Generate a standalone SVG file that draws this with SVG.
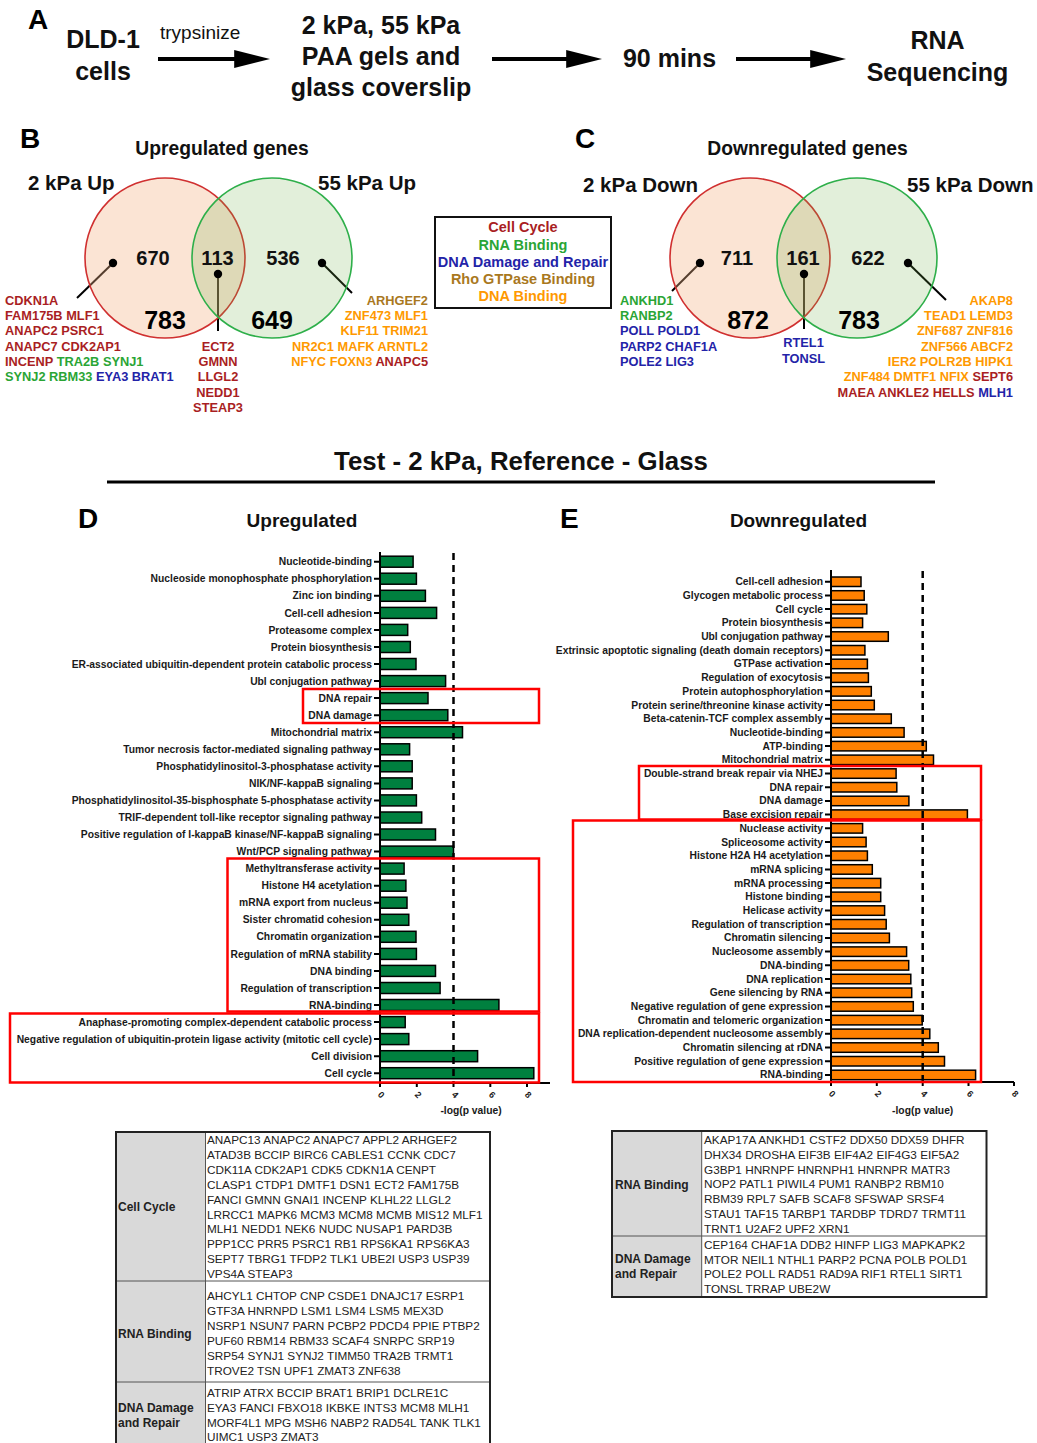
<svg xmlns="http://www.w3.org/2000/svg" width="1037" height="1443" viewBox="0 0 1037 1443">
<defs>
<style>
text{font-family:"Liberation Sans",Arial,sans-serif;}
.pl{font-size:28px;font-weight:bold;fill:#000;}
.fa{font-size:25px;font-weight:bold;fill:#111;text-anchor:middle;}
.vt{font-size:19.3px;font-weight:bold;fill:#111;text-anchor:middle;}
.vs{font-size:20.5px;font-weight:bold;fill:#111;}
.n1{font-size:20px;font-weight:bold;fill:#111;text-anchor:middle;}
.n2{font-size:25px;font-weight:bold;fill:#000;text-anchor:middle;}
.g{font-size:12.8px;font-weight:bold;}
.cc{fill:#A91E23;}
.rb{fill:#2AA535;}
.dd{fill:#2323A8;}
.rho{fill:#A9781E;}
.db{fill:#FF9900;}
.lg{font-size:14.5px;font-weight:bold;text-anchor:middle;}
.rl{font-size:10.3px;font-weight:bold;fill:#1a1a1a;text-anchor:end;}
.tk{font-size:9px;font-weight:bold;fill:#1a1a1a;text-anchor:middle;}
.gb{fill:#00803F;stroke:#000;stroke-width:1.5;}
.ob{fill:#FF8000;stroke:#000;stroke-width:1.5;}
.ax{stroke:#000;stroke-width:2;fill:none;}
.dash{stroke:#000;stroke-width:2.5;stroke-dasharray:7 5;fill:none;}
.rbox{fill:none;stroke:#FF0000;stroke-width:2.5;}
.pt{stroke:#000;stroke-width:2;}
.tt{font-size:11.75px;fill:#222;}
.th{font-size:12px;font-weight:bold;fill:#222;}
.cell{fill:#D9D9D9;}
.tl{stroke:#555;stroke-width:1;}
.tb{fill:none;stroke:#222;stroke-width:2;}
</style>
<marker id="ah" viewBox="0 0 10 5" refX="0.5" refY="2.5" markerWidth="9" markerHeight="4.5" markerUnits="strokeWidth" orient="auto">
<path d="M0,0 L10,2.5 L0,5 z" fill="#000"/>
</marker>
</defs>
<rect width="1037" height="1443" fill="#fff"/>

<!-- Panel A -->
<g id="panelA">
<text class="pl" x="28" y="29">A</text>
<g id="node-dld1"><text class="fa" x="103" y="48">DLD-1</text><text class="fa" x="103" y="80">cells</text></g>
<text id="lbl-trypsinize" x="160" y="39" style="font-size:19px;fill:#111;">trypsinize</text>
<g id="node-gels"><text class="fa" x="381" y="34">2 kPa, 55 kPa</text><text class="fa" x="381" y="65">PAA gels and</text><text class="fa" x="381" y="96">glass coverslip</text></g>
<g id="node-90"><text class="fa" x="669.5" y="67">90 mins</text></g>
<g id="node-rna"><text class="fa" x="937.5" y="49">RNA</text><text class="fa" x="937.5" y="81">Sequencing</text></g>
</g>

<g id="connectors">
<line x1="158" y1="59" x2="236" y2="59" stroke="#000" stroke-width="4" marker-end="url(#ah)"/>
<line x1="492" y1="59" x2="568" y2="59" stroke="#000" stroke-width="4" marker-end="url(#ah)"/>
<line x1="736" y1="59" x2="812" y2="59" stroke="#000" stroke-width="4" marker-end="url(#ah)"/>
<line class="pt" x1="113" y1="263" x2="77" y2="298"/>
<line class="pt" x1="218" y1="274" x2="218" y2="331"/>
<line class="pt" x1="322" y1="263" x2="352" y2="293"/>
<line class="pt" x1="700" y1="263" x2="672" y2="291"/>
<line class="pt" x1="804" y1="274" x2="804" y2="329"/>
<line class="pt" x1="908" y1="263" x2="946" y2="300"/>
</g>

<!-- Panel B -->
<g id="panelB">
<text class="pl" x="20" y="148">B</text>
<text class="vt" x="222" y="155">Upregulated genes</text>
<text class="vs" x="28" y="190">2 kPa Up</text>
<text class="vs" x="318" y="190">55 kPa Up</text>
<circle cx="165" cy="258" r="80" fill="#F4B183" fill-opacity="0.35" stroke="#D03030" stroke-width="1.6"/>
<circle cx="272" cy="258" r="80" fill="#70AD47" fill-opacity="0.2" stroke="#2EAF4A" stroke-width="1.6"/>
<text class="n1" x="153" y="265">670</text>
<text class="n1" x="217.5" y="265">113</text>
<text class="n1" x="283" y="265">536</text>
<text class="n2" x="165" y="329">783</text>
<text class="n2" x="272" y="329">649</text>
<circle cx="113" cy="263" r="4.2" fill="#000"/>
<circle cx="218" cy="274" r="4.2" fill="#000"/>
<circle cx="322" cy="263" r="4.2" fill="#000"/>
<g class="g">
<text x="5" y="304.5" class="cc">CDKN1A</text>
<text x="5" y="319.8" class="cc">FAM175B MLF1</text>
<text x="5" y="335.2" class="cc">ANAPC2 PSRC1</text>
<text x="5" y="350.5" class="cc">ANAPC7 CDK2AP1</text>
<text x="5" y="365.8"><tspan class="cc">INCENP </tspan><tspan class="rb">TRA2B SYNJ1</tspan></text>
<text x="5" y="381.2"><tspan class="rb">SYNJ2 RBM33 </tspan><tspan class="dd">EYA3 BRAT1</tspan></text>
<text x="218" y="350.5" class="cc" text-anchor="middle">ECT2</text>
<text x="218" y="365.8" class="cc" text-anchor="middle">GMNN</text>
<text x="218" y="381.2" class="cc" text-anchor="middle">LLGL2</text>
<text x="218" y="396.5" class="cc" text-anchor="middle">NEDD1</text>
<text x="218" y="411.8" class="cc" text-anchor="middle">STEAP3</text>
<text x="428" y="304.5" class="rho" text-anchor="end">ARHGEF2</text>
<text x="428" y="319.8" class="db" text-anchor="end">ZNF473 MLF1</text>
<text x="428" y="335.2" class="db" text-anchor="end">KLF11 TRIM21</text>
<text x="428" y="350.5" class="db" text-anchor="end">NR2C1 MAFK ARNTL2</text>
<text x="428" y="365.8" text-anchor="end"><tspan class="db">NFYC FOXN3 </tspan><tspan class="cc">ANAPC5</tspan></text>
</g>
</g>

<!-- Legend -->
<g id="legend">
<rect x="435" y="217" width="176" height="91" fill="#fff" stroke="#111" stroke-width="2"/>
<text class="lg cc" x="523" y="232">Cell Cycle</text>
<text class="lg rb" x="523" y="250">RNA Binding</text>
<text class="lg dd" x="523" y="267">DNA Damage and Repair</text>
<text class="lg rho" x="523" y="284">Rho GTPase Binding</text>
<text class="lg db" x="523" y="301">DNA Binding</text>
</g>

<!-- Panel C -->
<g id="panelC">
<text class="pl" x="575" y="148">C</text>
<text class="vt" x="807.5" y="155">Downregulated genes</text>
<text class="vs" x="583" y="192">2 kPa Down</text>
<text class="vs" x="907" y="192">55 kPa Down</text>
<circle cx="750" cy="258" r="80" fill="#F4B183" fill-opacity="0.35" stroke="#D03030" stroke-width="1.6"/>
<circle cx="857" cy="258" r="80" fill="#70AD47" fill-opacity="0.2" stroke="#2EAF4A" stroke-width="1.6"/>
<text class="n1" x="737" y="265">711</text>
<text class="n1" x="803" y="265">161</text>
<text class="n1" x="868" y="265">622</text>
<text class="n2" x="748" y="329">872</text>
<text class="n2" x="859" y="329">783</text>
<circle cx="700" cy="263" r="4.2" fill="#000"/>
<circle cx="804" cy="274" r="4.2" fill="#000"/>
<circle cx="908" cy="263" r="4.2" fill="#000"/>
<g class="g">
<text x="620" y="304.5" class="rb">ANKHD1</text>
<text x="620" y="319.8" class="rb">RANBP2</text>
<text x="620" y="335.2" class="dd">POLL POLD1</text>
<text x="620" y="350.5" class="dd">PARP2 CHAF1A</text>
<text x="620" y="365.8" class="dd">POLE2 LIG3</text>
<text x="803.5" y="347" class="dd" text-anchor="middle">RTEL1</text>
<text x="803.5" y="362.5" class="dd" text-anchor="middle">TONSL</text>
<text x="1013" y="304.5" class="db" text-anchor="end">AKAP8</text>
<text x="1013" y="319.8" class="db" text-anchor="end">TEAD1 LEMD3</text>
<text x="1013" y="335.2" class="db" text-anchor="end">ZNF687 ZNF816</text>
<text x="1013" y="350.5" class="db" text-anchor="end">ZNF566 ABCF2</text>
<text x="1013" y="365.8" class="db" text-anchor="end">IER2 POLR2B HIPK1</text>
<text x="1013" y="381.2" text-anchor="end"><tspan class="db">ZNF484 DMTF1 NFIX </tspan><tspan class="cc">SEPT6</tspan></text>
<text x="1013" y="396.5" text-anchor="end"><tspan class="cc">MAEA ANKLE2 HELLS </tspan><tspan class="dd">MLH1</tspan></text>
</g>
</g>

<!-- Title -->
<g id="title">
<text x="521" y="470" text-anchor="middle" style="font-size:25.8px;font-weight:bold;fill:#111;">Test - 2 kPa, Reference - Glass</text>
<line x1="107" y1="482" x2="935" y2="482" stroke="#000" stroke-width="3"/>
</g>

<!-- Panel D -->
<g id="panelD">
<text class="pl" x="78" y="528">D</text>
<text x="302" y="527" text-anchor="middle" style="font-size:19px;font-weight:bold;fill:#111;">Upregulated</text>
<g id="D-bars">
<rect class="gb" x="380" y="556.2" width="33.1" height="11"/>
<rect class="gb" x="380" y="573.2" width="36.4" height="11"/>
<rect class="gb" x="380" y="590.3" width="45.4" height="11"/>
<rect class="gb" x="380" y="607.4" width="56.6" height="11"/>
<rect class="gb" x="380" y="624.4" width="27.7" height="11"/>
<rect class="gb" x="380" y="641.5" width="30.3" height="11"/>
<rect class="gb" x="380" y="658.5" width="36.0" height="11"/>
<rect class="gb" x="380" y="675.6" width="65.6" height="11"/>
<rect class="gb" x="380" y="692.6" width="48.0" height="11"/>
<rect class="gb" x="380" y="709.7" width="67.8" height="11"/>
<rect class="gb" x="380" y="726.7" width="82.5" height="11"/>
<rect class="gb" x="380" y="743.8" width="29.6" height="11"/>
<rect class="gb" x="380" y="760.8" width="32.2" height="11"/>
<rect class="gb" x="380" y="777.9" width="32.2" height="11"/>
<rect class="gb" x="380" y="794.9" width="36.4" height="11"/>
<rect class="gb" x="380" y="812.0" width="41.7" height="11"/>
<rect class="gb" x="380" y="829.0" width="55.5" height="11"/>
<rect class="gb" x="380" y="846.1" width="73.5" height="11"/>
<rect class="gb" x="380" y="863.1" width="24.1" height="11"/>
<rect class="gb" x="380" y="880.2" width="25.9" height="11"/>
<rect class="gb" x="380" y="897.2" width="27.0" height="11"/>
<rect class="gb" x="380" y="914.3" width="28.8" height="11"/>
<rect class="gb" x="380" y="931.3" width="36.0" height="11"/>
<rect class="gb" x="380" y="948.4" width="36.4" height="11"/>
<rect class="gb" x="380" y="965.4" width="55.5" height="11"/>
<rect class="gb" x="380" y="982.5" width="60.1" height="11"/>
<rect class="gb" x="380" y="999.5" width="118.9" height="11"/>
<rect class="gb" x="380" y="1016.6" width="25.2" height="11"/>
<rect class="gb" x="380" y="1033.6" width="28.8" height="11"/>
<rect class="gb" x="380" y="1050.7" width="97.6" height="11"/>
<rect class="gb" x="380" y="1067.7" width="153.8" height="11"/>
</g>
<g id="D-labels">
<text class="rl" x="372" y="565.3">Nucleotide-binding</text>
<text class="rl" x="372" y="582.4">Nucleoside monophosphate phosphorylation</text>
<text class="rl" x="372" y="599.4">Zinc ion binding</text>
<text class="rl" x="372" y="616.5">Cell-cell adhesion</text>
<text class="rl" x="372" y="633.5">Proteasome complex</text>
<text class="rl" x="372" y="650.6">Protein biosynthesis</text>
<text class="rl" x="372" y="667.6">ER-associated ubiquitin-dependent protein catabolic process</text>
<text class="rl" x="372" y="684.7">Ubl conjugation pathway</text>
<text class="rl" x="372" y="701.7">DNA repair</text>
<text class="rl" x="372" y="718.8">DNA damage</text>
<text class="rl" x="372" y="735.8">Mitochondrial matrix</text>
<text class="rl" x="372" y="752.9">Tumor necrosis factor-mediated signaling pathway</text>
<text class="rl" x="372" y="769.9">Phosphatidylinositol-3-phosphatase activity</text>
<text class="rl" x="372" y="787.0">NIK/NF-kappaB signaling</text>
<text class="rl" x="372" y="804.0">Phosphatidylinositol-35-bisphosphate 5-phosphatase activity</text>
<text class="rl" x="372" y="821.1">TRIF-dependent toll-like receptor signaling pathway</text>
<text class="rl" x="372" y="838.1">Positive regulation of I-kappaB kinase/NF-kappaB signaling</text>
<text class="rl" x="372" y="855.2">Wnt/PCP signaling pathway</text>
<text class="rl" x="372" y="872.2">Methyltransferase activity</text>
<text class="rl" x="372" y="889.3">Histone H4 acetylation</text>
<text class="rl" x="372" y="906.3">mRNA export from nucleus</text>
<text class="rl" x="372" y="923.4">Sister chromatid cohesion</text>
<text class="rl" x="372" y="940.4">Chromatin organization</text>
<text class="rl" x="372" y="957.5">Regulation of mRNA stability</text>
<text class="rl" x="372" y="974.5">DNA binding</text>
<text class="rl" x="372" y="991.6">Regulation of transcription</text>
<text class="rl" x="372" y="1008.6">RNA-binding</text>
<text class="rl" x="372" y="1025.7">Anaphase-promoting complex-dependent catabolic process</text>
<text class="rl" x="372" y="1042.7">Negative regulation of ubiquitin-protein ligase activity (mitotic cell cycle)</text>
<text class="rl" x="372" y="1059.8">Cell division</text>
<text class="rl" x="372" y="1076.8">Cell cycle</text>
</g>
<path class="ax" d="M374,561.7h6M374,578.8h6M374,595.8h6M374,612.9h6M374,629.9h6M374,647h6M374,664h6M374,681.1h6M374,698.1h6M374,715.2h6M374,732.2h6M374,749.3h6M374,766.3h6M374,783.4h6M374,800.4h6M374,817.5h6M374,834.5h6M374,851.6h6M374,868.6h6M374,885.7h6M374,902.7h6M374,919.8h6M374,936.8h6M374,953.9h6M374,970.9h6M374,988h6M374,1005h6M374,1022.1h6M374,1039.1h6M374,1056.2h6M374,1073.2h6"/>
<path class="ax" d="M380,552V1083H550M380,1083v4M416.8,1083v4M453.5,1083v4M490.3,1083v4M527,1083v4"/>
<line class="dash" x1="453.5" y1="553" x2="453.5" y2="1083"/>
<text class="tk" transform="translate(379,1097) rotate(45)">0</text>
<text class="tk" transform="translate(416,1097) rotate(45)">2</text>
<text class="tk" transform="translate(453,1097) rotate(45)">4</text>
<text class="tk" transform="translate(490,1097) rotate(45)">6</text>
<text class="tk" transform="translate(526,1097) rotate(45)">8</text>
<text x="471" y="1114" text-anchor="middle" style="font-size:10.3px;font-weight:bold;fill:#1a1a1a;">-log(p value)</text>
<rect class="rbox" x="303" y="689" width="236" height="34"/>
<rect class="rbox" x="227.5" y="858.5" width="311.5" height="153"/>
<rect class="rbox" x="10" y="1013.5" width="529" height="69"/>
</g>

<!-- Panel E -->
<g id="panelE">
<text class="pl" x="560" y="528">E</text>
<text x="798.5" y="527" text-anchor="middle" style="font-size:19px;font-weight:bold;fill:#111;">Downregulated</text>
<g id="E-bars">
<rect class="ob" x="831" y="577" width="30.0" height="9.5"/>
<rect class="ob" x="831" y="590.7" width="33.2" height="9.5"/>
<rect class="ob" x="831" y="604.4" width="35.8" height="9.5"/>
<rect class="ob" x="831" y="618.1" width="31.6" height="9.5"/>
<rect class="ob" x="831" y="631.8" width="57.3" height="9.5"/>
<rect class="ob" x="831" y="645.5" width="33.9" height="9.5"/>
<rect class="ob" x="831" y="659.2" width="36.4" height="9.5"/>
<rect class="ob" x="831" y="672.9" width="37.4" height="9.5"/>
<rect class="ob" x="831" y="686.6" width="40.3" height="9.5"/>
<rect class="ob" x="831" y="700.3" width="43.3" height="9.5"/>
<rect class="ob" x="831" y="714" width="60.3" height="9.5"/>
<rect class="ob" x="831" y="727.7" width="73.1" height="9.5"/>
<rect class="ob" x="831" y="741.4" width="95.3" height="9.5"/>
<rect class="ob" x="831" y="755.1" width="102.5" height="9.5"/>
<rect class="ob" x="831" y="768.8" width="65.1" height="9.5"/>
<rect class="ob" x="831" y="782.5" width="65.8" height="9.5"/>
<rect class="ob" x="831" y="796.2" width="77.9" height="9.5"/>
<rect class="ob" x="831" y="809.9" width="136.4" height="9.5"/>
<rect class="ob" x="831" y="823.6" width="31.6" height="9.5"/>
<rect class="ob" x="831" y="837.3" width="35.1" height="9.5"/>
<rect class="ob" x="831" y="851" width="36.4" height="9.5"/>
<rect class="ob" x="831" y="864.7" width="41.3" height="9.5"/>
<rect class="ob" x="831" y="878.4" width="49.7" height="9.5"/>
<rect class="ob" x="831" y="892.1" width="49.7" height="9.5"/>
<rect class="ob" x="831" y="905.8" width="53.6" height="9.5"/>
<rect class="ob" x="831" y="919.5" width="55.2" height="9.5"/>
<rect class="ob" x="831" y="933.2" width="58.4" height="9.5"/>
<rect class="ob" x="831" y="946.9" width="75.6" height="9.5"/>
<rect class="ob" x="831" y="960.6" width="77.7" height="9.5"/>
<rect class="ob" x="831" y="974.3" width="79.8" height="9.5"/>
<rect class="ob" x="831" y="988" width="80.7" height="9.5"/>
<rect class="ob" x="831" y="1001.7" width="82.3" height="9.5"/>
<rect class="ob" x="831" y="1015.4" width="91.2" height="9.5"/>
<rect class="ob" x="831" y="1029.1" width="98.8" height="9.5"/>
<rect class="ob" x="831" y="1042.8" width="107.3" height="9.5"/>
<rect class="ob" x="831" y="1056.5" width="113.5" height="9.5"/>
<rect class="ob" x="831" y="1070.2" width="144.6" height="9.5"/>
</g>
<g id="E-labels">
<text class="rl" x="823" y="585.2">Cell-cell adhesion</text>
<text class="rl" x="823" y="598.9">Glycogen metabolic process</text>
<text class="rl" x="823" y="612.6">Cell cycle</text>
<text class="rl" x="823" y="626.3">Protein biosynthesis</text>
<text class="rl" x="823" y="640">Ubl conjugation pathway</text>
<text class="rl" x="823" y="653.7">Extrinsic apoptotic signaling (death domain receptors)</text>
<text class="rl" x="823" y="667.4">GTPase activation</text>
<text class="rl" x="823" y="681.1">Regulation of exocytosis</text>
<text class="rl" x="823" y="694.8">Protein autophosphorylation</text>
<text class="rl" x="823" y="708.5">Protein serine/threonine kinase activity</text>
<text class="rl" x="823" y="722.2">Beta-catenin-TCF complex assembly</text>
<text class="rl" x="823" y="735.9">Nucleotide-binding</text>
<text class="rl" x="823" y="749.6">ATP-binding</text>
<text class="rl" x="823" y="763.3">Mitochondrial matrix</text>
<text class="rl" x="823" y="777">Double-strand break repair via NHEJ</text>
<text class="rl" x="823" y="790.7">DNA repair</text>
<text class="rl" x="823" y="804.4">DNA damage</text>
<text class="rl" x="823" y="818.1">Base excision repair</text>
<text class="rl" x="823" y="831.8">Nuclease activity</text>
<text class="rl" x="823" y="845.5">Spliceosome activity</text>
<text class="rl" x="823" y="859.2">Histone H2A H4 acetylation</text>
<text class="rl" x="823" y="872.9">mRNA splicing</text>
<text class="rl" x="823" y="886.6">mRNA processing</text>
<text class="rl" x="823" y="900.3">Histone binding</text>
<text class="rl" x="823" y="914">Helicase activity</text>
<text class="rl" x="823" y="927.7">Regulation of transcription</text>
<text class="rl" x="823" y="941.4">Chromatin silencing</text>
<text class="rl" x="823" y="955.1">Nucleosome assembly</text>
<text class="rl" x="823" y="968.8">DNA-binding</text>
<text class="rl" x="823" y="982.5">DNA replication</text>
<text class="rl" x="823" y="996.2">Gene silencing by RNA</text>
<text class="rl" x="823" y="1009.9">Negative regulation of gene expression</text>
<text class="rl" x="823" y="1023.6">Chromatin and telomeric organization</text>
<text class="rl" x="823" y="1037.3">DNA replication-dependent nucleosome assembly</text>
<text class="rl" x="823" y="1051">Chromatin silencing at rDNA</text>
<text class="rl" x="823" y="1064.7">Positive regulation of gene expression</text>
<text class="rl" x="823" y="1078.4">RNA-binding</text>
</g>
<path class="ax" d="M825,581.7h6M825,595.4h6M825,609.1h6M825,622.8h6M825,636.5h6M825,650.2h6M825,663.9h6M825,677.6h6M825,691.3h6M825,705h6M825,718.7h6M825,732.4h6M825,746.1h6M825,759.8h6M825,773.5h6M825,787.2h6M825,800.9h6M825,814.6h6M825,828.3h6M825,842h6M825,855.7h6M825,869.4h6M825,883.1h6M825,896.8h6M825,910.5h6M825,924.2h6M825,937.9h6M825,951.6h6M825,965.3h6M825,979h6M825,992.7h6M825,1006.4h6M825,1020.1h6M825,1033.8h6M825,1047.5h6M825,1061.2h6M825,1074.9h6"/>
<path class="ax" d="M831,570V1082H1014M831,1082v4M876.8,1082v4M922.7,1082v4M968.5,1082v4M1014,1082v4"/>
<line class="dash" x1="922.7" y1="571" x2="922.7" y2="1082"/>
<text class="tk" transform="translate(830,1096) rotate(45)">0</text>
<text class="tk" transform="translate(876,1096) rotate(45)">2</text>
<text class="tk" transform="translate(922,1096) rotate(45)">4</text>
<text class="tk" transform="translate(968,1096) rotate(45)">6</text>
<text class="tk" transform="translate(1013,1096) rotate(45)">8</text>
<text x="922.7" y="1114" text-anchor="middle" style="font-size:10.3px;font-weight:bold;fill:#1a1a1a;">-log(p value)</text>
<rect class="rbox" x="639" y="766" width="342" height="53.5"/>
<rect class="rbox" x="573" y="820.5" width="408" height="261.5"/>
</g>

<!-- Table left -->
<g id="table-up">
<rect class="cell" x="116" y="1132" width="89.5" height="313"/>
<line class="tl" x1="205.5" y1="1132" x2="205.5" y2="1445"/>
<line class="tl" x1="116" y1="1281" x2="490" y2="1281"/>
<line class="tl" x1="116" y1="1382" x2="490" y2="1382"/>
<path class="tb" d="M116,1445V1132H490V1445"/>
<text class="th" x="118" y="1211">Cell Cycle</text>
<text class="th" x="118" y="1338">RNA Binding</text>
<text class="th" x="118" y="1412">DNA Damage</text>
<text class="th" x="118" y="1427">and Repair</text>
<g class="tt">
<text x="207" y="1144">ANAPC13 ANAPC2 ANAPC7 APPL2 ARHGEF2</text>
<text x="207" y="1158.9">ATAD3B BCCIP BIRC6 CABLES1 CCNK CDC7</text>
<text x="207" y="1173.8">CDK11A CDK2AP1 CDK5 CDKN1A CENPT</text>
<text x="207" y="1188.7">CLASP1 CTDP1 DMTF1 DSN1 ECT2 FAM175B</text>
<text x="207" y="1203.6">FANCI GMNN GNAI1 INCENP KLHL22 LLGL2</text>
<text x="207" y="1218.5">LRRCC1 MAPK6 MCM3 MCM8 MCMB MIS12 MLF1</text>
<text x="207" y="1233.4">MLH1 NEDD1 NEK6 NUDC NUSAP1 PARD3B</text>
<text x="207" y="1248.3">PPP1CC PRR5 PSRC1 RB1 RPS6KA1 RPS6KA3</text>
<text x="207" y="1263.2">SEPT7 TBRG1 TFDP2 TLK1 UBE2I USP3 USP39</text>
<text x="207" y="1278.1">VPS4A STEAP3</text>
<text x="207" y="1300">AHCYL1 CHTOP CNP CSDE1 DNAJC17 ESRP1</text>
<text x="207" y="1315">GTF3A HNRNPD LSM1 LSM4 LSM5 MEX3D</text>
<text x="207" y="1330">NSRP1 NSUN7 PARN PCBP2 PDCD4 PPIE PTBP2</text>
<text x="207" y="1345">PUF60 RBM14 RBM33 SCAF4 SNRPC SRP19</text>
<text x="207" y="1360">SRP54 SYNJ1 SYNJ2 TIMM50 TRA2B TRMT1</text>
<text x="207" y="1375">TROVE2 TSN UPF1 ZMAT3 ZNF638</text>
<text x="207" y="1397">ATRIP ATRX BCCIP BRAT1 BRIP1 DCLRE1C</text>
<text x="207" y="1412">EYA3 FANCI FBXO18 IKBKE INTS3 MCM8 MLH1</text>
<text x="207" y="1427">MORF4L1 MPG MSH6 NABP2 RAD54L TANK TLK1</text>
<text x="207" y="1441">UIMC1 USP3 ZMAT3</text>
</g>
</g>

<!-- Table right -->
<g id="table-down">
<rect class="cell" x="612" y="1131" width="89.7" height="166"/>
<line class="tl" x1="701.7" y1="1131" x2="701.7" y2="1297"/>
<line class="tl" x1="612" y1="1236" x2="986.5" y2="1236"/>
<rect class="tb" x="612" y="1131" width="374.5" height="166"/>
<text class="th" x="615" y="1189">RNA Binding</text>
<text class="th" x="615" y="1263">DNA Damage</text>
<text class="th" x="615" y="1278">and Repair</text>
<g class="tt">
<text x="704" y="1144">AKAP17A ANKHD1 CSTF2 DDX50 DDX59 DHFR</text>
<text x="704" y="1158.8">DHX34 DROSHA EIF3B EIF4A2 EIF4G3 EIF5A2</text>
<text x="704" y="1173.6">G3BP1 HNRNPF HNRNPH1 HNRNPR MATR3</text>
<text x="704" y="1188.4">NOP2 PATL1 PIWIL4 PUM1 RANBP2 RBM10</text>
<text x="704" y="1203.2">RBM39 RPL7 SAFB SCAF8 SFSWAP SRSF4</text>
<text x="704" y="1218">STAU1 TAF15 TARBP1 TARDBP TDRD7 TRMT11</text>
<text x="704" y="1232.8">TRNT1 U2AF2 UPF2 XRN1</text>
<text x="704" y="1249">CEP164 CHAF1A DDB2 HINFP LIG3 MAPKAPK2</text>
<text x="704" y="1263.5">MTOR NEIL1 NTHL1 PARP2 PCNA POLB POLD1</text>
<text x="704" y="1278">POLE2 POLL RAD51 RAD9A RIF1 RTEL1 SIRT1</text>
<text x="704" y="1293">TONSL TRRAP UBE2W</text>
</g>
</g>
</svg>
